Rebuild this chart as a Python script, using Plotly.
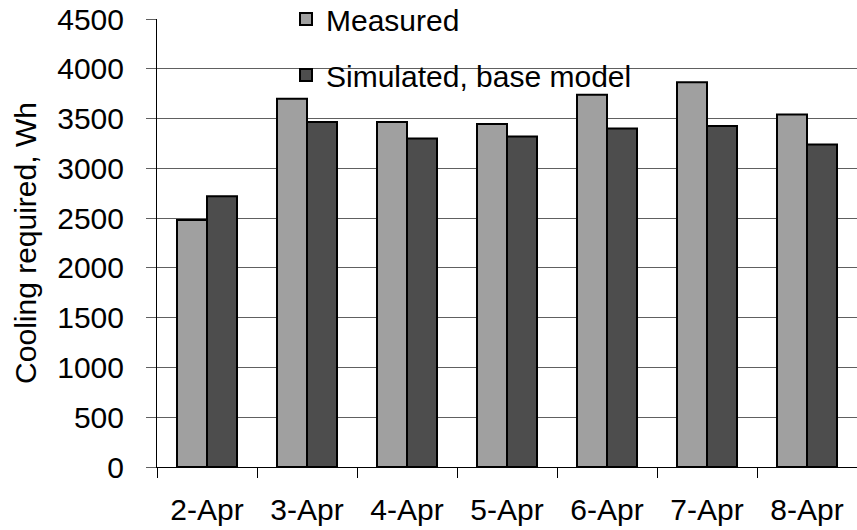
import plotly.graph_objects as go

categories = ["2-Apr", "3-Apr", "4-Apr", "5-Apr", "6-Apr", "7-Apr", "8-Apr"]
measured = [2480, 3700, 3465, 3445, 3740, 3865, 3540]
simulated = [2720, 3465, 3300, 3320, 3400, 3425, 3240]
y_ticks = [0, 500, 1000, 1500, 2000, 2500, 3000, 3500, 4000, 4500]

FONT = "Liberation Sans, Arial, sans-serif"
W, H = 857, 530
ML, MR, MT, MB = 157, 0, 19, 63
PH = H - MT - MB

fig = go.Figure()
fig.add_trace(go.Bar(
    x=categories, y=measured, name="Measured",
    marker=dict(color="#a0a0a0", line=dict(color="#000000", width=2)),
    legendgroup="m",
))
fig.add_trace(go.Bar(
    x=categories, y=simulated, name="Simulated, base model",
    marker=dict(color="#4d4d4d", line=dict(color="#000000", width=2)),
    legendgroup="s",
))

# white legend background that hides gridlines (drawn between grid and bars)
fig.add_shape(type="rect", xref="paper", yref="paper",
              x0=(198 - ML) / (W - ML - MR), x1=(757 - ML) / (W - ML - MR),
              y0=(H - MB - 80) / PH, y1=1.04,
              fillcolor="white", line=dict(width=0), layer="between")

fig.update_layout(
    width=W, height=H,
    margin=dict(l=ML, r=MR, t=MT, b=MB, autoexpand=False),
    paper_bgcolor="white", plot_bgcolor="white",
    barmode="group", bargap=0.4, bargroupgap=0,
    font=dict(family=FONT, size=30, color="#000000"),
    showlegend=True,
    legend=dict(
        x=(286 - ML) / (W - ML - MR), xanchor="left",
        y=(H - MB + 7) / PH, yanchor="top",
        bgcolor="rgba(0,0,0,0)", borderwidth=0,
        font=dict(family=FONT, size=30, color="#000000"),
        traceorder="grouped", tracegroupgap=14,
    ),
    xaxis=dict(
        showline=True, linecolor="#000000", linewidth=1,
        ticks="outside", ticklen=10, tickcolor="#000000", tickwidth=1,
        tickson="boundaries", showgrid=False,
        tickfont=dict(family=FONT, size=30),
        ticklabelstandoff=16,
    ),
    yaxis=dict(
        range=[0, 4500], tickvals=y_ticks,
        showline=True, linecolor="#000000", linewidth=1,
        ticks="outside", ticklen=10, tickcolor="#606060", tickwidth=1,
        showgrid=True, gridcolor="#606060", gridwidth=1,
        zeroline=False,
        tickfont=dict(family=FONT, size=30),
        ticklabelstandoff=16,
        title=dict(text="Cooling required, Wh", font=dict(family=FONT, size=30), standoff=11),
    ),
)

fig.write_html("out.html")
